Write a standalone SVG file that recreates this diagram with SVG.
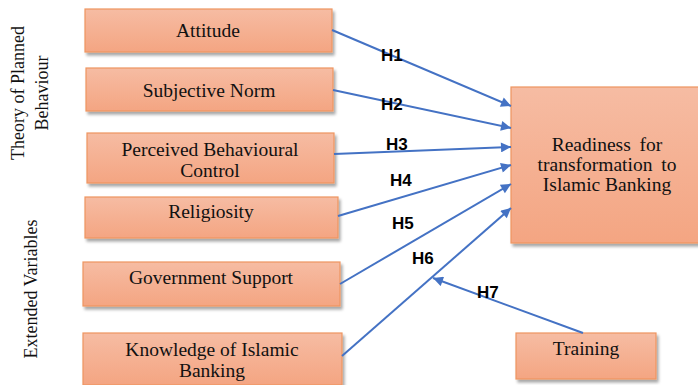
<svg xmlns="http://www.w3.org/2000/svg" width="698" height="385" viewBox="0 0 698 385">
<defs>
<linearGradient id="g" x1="0" y1="0" x2="0" y2="1">
<stop offset="0" stop-color="#F6BCA3"/>
<stop offset="1" stop-color="#F4A582"/>
</linearGradient>
<filter id="sh" x="-10%" y="-10%" width="125%" height="140%">
<feGaussianBlur in="SourceAlpha" stdDeviation="1.5"/>
<feOffset dx="2" dy="3" result="b"/>
<feComponentTransfer><feFuncA type="linear" slope="0.35"/></feComponentTransfer>
<feMerge><feMergeNode/><feMergeNode in="SourceGraphic"/></feMerge>
</filter>
<marker id="ah" viewBox="0 0 10 10" refX="10" refY="5" markerWidth="6" markerHeight="5" orient="auto" markerUnits="strokeWidth">
<path d="M0,0 L10,5 L0,10 Z" fill="#4472C4"/>
</marker>
</defs>
<style>
.box{fill:url(#g);stroke:#EE9560;stroke-width:1.2;filter:url(#sh)}
.t{font-family:"Liberation Serif","Times New Roman",serif;font-size:19.5px;fill:#111;text-anchor:middle}
.side{font-family:"Liberation Serif","Times New Roman",serif;font-size:18px;fill:#111;text-anchor:middle}
.h{font-family:"Liberation Sans",Arial,sans-serif;font-size:17px;font-weight:bold;fill:#000}
.c{stroke:#4472C4;stroke-width:2;fill:none;marker-end:url(#ah)}
</style>

<g id="label-tpb">
<text class="side" transform="translate(24,93) rotate(-90)">Theory of Planned</text>
<text class="side" transform="translate(48,93) rotate(-90)">Behaviour</text>
</g>
<g id="label-ext">
<text class="side" transform="translate(37,289) rotate(-90)">Extended Variables</text>
</g>

<g id="attitude"><rect class="box" x="85" y="9" width="247" height="43"/><text class="t" x="208" y="37">Attitude</text></g>
<g id="subjective-norm"><rect class="box" x="86" y="68" width="247" height="43"/><text class="t" x="209" y="97">Subjective Norm</text></g>
<g id="pbc"><rect class="box" x="87" y="133" width="247" height="50"/><text class="t" x="210" y="156">Perceived Behavioural</text><text class="t" x="210" y="177">Control</text></g>
<g id="religiosity"><rect class="box" x="85" y="197" width="253" height="41"/><text class="t" x="211" y="218">Religiosity</text></g>
<g id="government-support"><rect class="box" x="83" y="262" width="257" height="44"/><text class="t" x="211" y="284">Government Support</text></g>
<g id="knowledge"><rect class="box" x="83" y="333" width="259" height="52"/><text class="t" x="212" y="356">Knowledge of Islamic</text><text class="t" x="212" y="377">Banking</text></g>
<g id="readiness"><rect class="box" x="511" y="87" width="190" height="156"/><text class="t" x="607" y="151" word-spacing="4">Readiness for</text><text class="t" x="607" y="171" word-spacing="4">transformation to</text><text class="t" x="607" y="191">Islamic Banking</text></g>
<g id="training"><rect class="box" x="516" y="333" width="140" height="46"/><text class="t" x="586" y="355">Training</text></g>

<g id="connectors">
<line class="c" x1="332" y1="30" x2="511" y2="106"/>
<line class="c" x1="333" y1="90" x2="511" y2="128"/>
<line class="c" x1="334" y1="154" x2="511" y2="147"/>
<line class="c" x1="338" y1="216" x2="511" y2="165"/>
<line class="c" x1="340" y1="284" x2="511" y2="184"/>
<line class="c" x1="342" y1="356" x2="511" y2="208"/>
<line class="c" x1="583" y1="333" x2="433" y2="278"/>
<text class="h" x="381" y="61">H1</text>
<text class="h" x="381" y="110">H2</text>
<text class="h" x="386" y="150">H3</text>
<text class="h" x="390" y="186">H4</text>
<text class="h" x="392" y="229">H5</text>
<text class="h" x="412" y="264">H6</text>
<text class="h" x="477" y="298">H7</text>
</g>
</svg>
